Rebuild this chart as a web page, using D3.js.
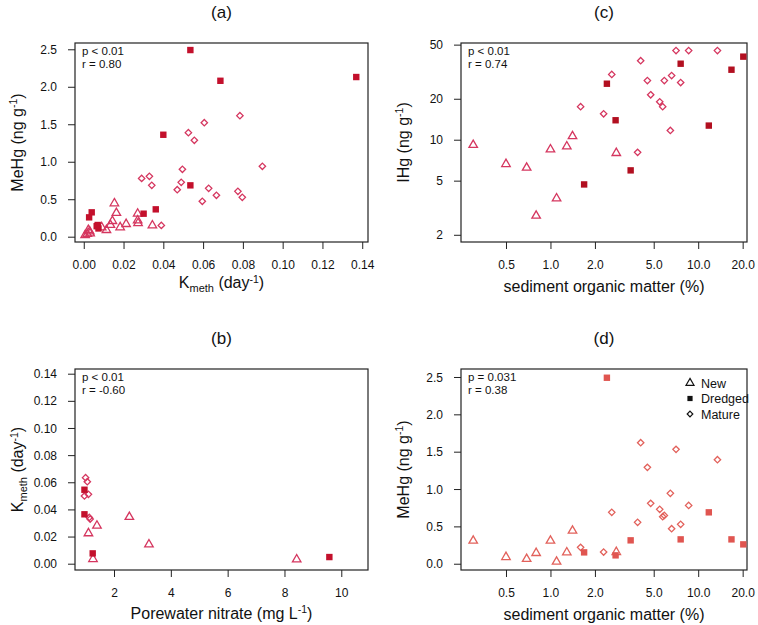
<!DOCTYPE html>
<html><head><meta charset="utf-8">
<script src="https://cdn.jsdelivr.net/npm/d3@7"></script>
<style>body{margin:0;background:#fff} text{font-family:"Liberation Sans",Arial,sans-serif;fill:#111}</style>
</head><body><svg id="c" width="758" height="625" xmlns="http://www.w3.org/2000/svg"></svg>
<script>
// ---------- DATA ----------
// Panel (a): Kmeth vs MeHg
const aNewK    = [0.0154,0.0164,0.0144,0.0134,0.0213,0.0183,0.0271,0.0271,0.0273,0.0345,0.0114,0.0090,0.0023,0.0018,0.0032,0.0007,0.0030];
const aNewMe   = [0.445,0.316,0.209,0.156,0.169,0.125,0.307,0.218,0.180,0.151,0.089,0.125,0.089,0.036,0.045,0.020,0.070];
const aDredK   = [0.0536,0.0687,0.1370,0.0400,0.0536,0.0362,0.0301,0.0040,0.0027,0.0070,0.0074,0.0065];
const aDredMe  = [2.49,2.08,2.13,1.36,0.685,0.365,0.307,0.325,0.258,0.156,0.110,0.140];
const aMatK    = [0.0291,0.0330,0.0342,0.0390,0.0470,0.0490,0.0496,0.0526,0.0556,0.0606,0.0596,0.0628,0.0667,0.0785,0.0775,0.0797,0.0898];
const aMatMe   = [0.778,0.805,0.685,0.151,0.627,0.725,0.899,1.388,1.286,1.521,0.472,0.645,0.552,1.615,0.605,0.525,0.939];

// Panel (b): porewater nitrate vs Kmeth
const bNewN    = [2.54,1.40,1.10,3.23,1.26,8.43];
const bNewK    = [0.0344,0.0280,0.0224,0.0142,0.0034,0.0032];
const bDredN   = [0.96,0.96,1.25,9.58];
const bDredK   = [0.0545,0.0364,0.0076,0.0049];
const bMatN    = [1.00,1.06,0.96,1.10,1.13,1.16];
const bMatK    = [0.0634,0.0604,0.0499,0.0511,0.0341,0.0329];

// Panels (c),(d): sediment organic matter vs IHg and MeHg
const omNew    = [0.30,0.50,0.69,0.80,1.00,1.10,1.29,1.41,2.79];
const ihgNew   = [9.14,6.62,6.22,2.76,8.49,3.70,8.93,10.6,7.98];
const mehgNew  = [0.308,0.089,0.063,0.143,0.308,0.027,0.152,0.442,0.156];
const omDred   = [2.41,1.69,2.76,3.49,7.61,11.8,16.8,20.2];
const ihgDred  = [25.8,4.69,13.9,5.95,36.2,12.7,32.7,40.8];
const mehgDred = [2.49,0.152,0.112,0.313,0.326,0.688,0.326,0.259];
const omMat    = [1.60,2.29,2.60,3.89,4.08,4.53,4.77,5.49,5.75,5.90,6.48,6.61,7.08,7.61,8.62,13.5];
const ihgMat   = [17.5,15.5,30.2,8.07,38.1,27.2,21.4,19.0,17.5,27.2,11.7,29.6,45.2,26.3,45.2,45.2];
const mehgMat  = [0.219,0.156,0.688,0.554,1.62,1.29,0.808,0.728,0.630,0.647,0.942,0.469,1.531,0.527,0.781,1.393];

// Tick labels
const aXTicks = [0,0.02,0.04,0.06,0.08,0.10,0.12,0.14];
const aYTicks = [0,0.5,1.0,1.5,2.0,2.5];
const bXTicks = [2,4,6,8,10];
const bYTicks = [0,0.02,0.04,0.06,0.08,0.10,0.12,0.14];
const omTicks = [0.5,1,2,5,10,20];
const omTickLabels = ["0.5","1.0","2.0","5.0","10.0","20.0"];
const ihgTicks = [2,5,10,20,50];
const dYTicks = [0,0.5,1.0,1.5,2.0,2.5];
const legendLabels = ["New","Dredged","Mature"];
const statsA = ["p < 0.01","r = 0.80"];
const statsB = ["p < 0.01","r = -0.60"];
const statsC = ["p < 0.01","r = 0.74"];
const statsD = ["p = 0.031","r = 0.38"];

// ---------- DRAWING ----------
const svg = d3.select("#c");
const FONT = '"Liberation Sans",Arial,sans-serif';

function triPath(s){const h=s*Math.sqrt(3)/2;return `M0,${-2*h/3}L${s/2},${h/3}L${-s/2},${h/3}Z`;}
function diaPath(r){return `M0,${-r}L${r},0L0,${r}L${-r},0Z`;}

function panel(cfg){
  const [x0,y0,x1,y1]=cfg.box;
  const g=svg.append("g");
  const x=cfg.xs.range([x0,x1]);
  const y=cfg.ys.range([y1,y0]);
  const ax=d3.axisBottom(x).tickValues(cfg.xt).tickFormat(cfg.xf).tickSize(7).tickPadding(11);
  const ay=d3.axisLeft(y).tickValues(cfg.yt).tickFormat(cfg.yf).tickSize(7).tickPadding(11);
  const gx=g.append("g").attr("transform",`translate(0,${y1})`).call(ax);
  const gy=g.append("g").attr("transform",`translate(${x0},0)`).call(ay);
  [gx,gy].forEach(a=>{
    a.select(".domain").remove();
    a.selectAll("line").attr("stroke","#222").attr("stroke-width",1);
    a.selectAll("text").attr("font-size",12).attr("font-family",FONT).attr("fill","#111");
  });
  gy.selectAll("text").attr("dy","0.34em");
  g.append("rect").attr("x",x0).attr("y",y0).attr("width",x1-x0).attr("height",y1-y0)
    .attr("fill","none").attr("stroke","#222").attr("stroke-width",1.2);
  g.append("text").attr("x",(x0+x1)/2).attr("y",y0-25).attr("text-anchor","middle")
    .attr("font-size",17).text(cfg.title);
  cfg.stats.forEach((s,i)=>g.append("text").attr("x",x0+7).attr("y",y0+12+i*13)
    .attr("font-size",11.5).text(s));
  const xt=g.append("text").attr("x",(x0+x1)/2).attr("y",y1+cfg.xlOff).attr("text-anchor","middle").attr("font-size",16);
  cfg.xl(xt);
  const yt=g.append("text").attr("transform",`translate(${x0-52},${(y0+y1)/2}) rotate(-90)`)
    .attr("text-anchor","middle").attr("font-size",16);
  cfg.yl(yt);
  const pg=g.append("g");
  cfg.series.forEach(s=>{
    d3.zip(s.xv,s.yv).forEach(([a,b])=>{
      const px=x(a),py=y(b);
      if(s.shape==="tri"){
        pg.append("path").attr("d",triPath(8.5)).attr("transform",`translate(${px},${py})`)
          .attr("fill","none").attr("stroke",s.color).attr("stroke-width",1.3);
      } else if(s.shape==="dia"){
        pg.append("path").attr("d",diaPath(3.2)).attr("transform",`translate(${px},${py})`)
          .attr("fill","none").attr("stroke",s.color).attr("stroke-width",1.3);
      } else {
        pg.append("rect").attr("x",px-3.2).attr("y",py-3.2).attr("width",6.4).attr("height",6.4)
          .attr("fill",s.color);
      }
    });
  });
  return {g,x,y};
}

function sup(t,base,supTxt,tail){
  t.append("tspan").text(base);
  t.append("tspan").attr("font-size",10.5).attr("dy",-6).text(supTxt);
  t.append("tspan").attr("dy",6).text(tail);
}
function kmeth(t){
  t.append("tspan").text("K");
  t.append("tspan").attr("font-size",11).attr("dy",4).text("meth");
  t.append("tspan").attr("dy",-4).text(" (day");
  t.append("tspan").attr("font-size",10.5).attr("dy",-5.5).text("-1");
  t.append("tspan").attr("dy",5.5).text(")");
}

const cPink="#d5365f", cRed="#c3102c", cRedC="#b20f20", cSal="#e2615b", cSalSq="#e05550";
const fmt1=d3.format(".1f"), fmt2=d3.format(".2f");

panel({box:[75,43,368,242],
  xs:d3.scaleLinear().domain([-0.0044,0.1429]), ys:d3.scaleLinear().domain([-0.0707,2.584]),
  xt:aXTicks,xf:fmt2,yt:aYTicks,yf:fmt1,title:"(a)",stats:statsA,xlOff:46,
  xl:kmeth, yl:t=>sup(t,"MeHg (ng g","-1",")"),
  series:[{xv:aNewK,yv:aNewMe,shape:"tri",color:cPink},{xv:aMatK,yv:aMatMe,shape:"dia",color:cPink},{xv:aDredK,yv:aDredMe,shape:"sq",color:cRed}]});

panel({box:[75,369,368,570],
  xs:d3.scaleLinear().domain([0.627,10.94]), ys:d3.scaleLinear().domain([-0.00464,0.14346]),
  xt:bXTicks,xf:d3.format("d"),yt:bYTicks,yf:fmt2,title:"(b)",stats:statsB,xlOff:49,
  xl:t=>sup(t,"Porewater nitrate (mg L","-1",")"), yl:kmeth,
  series:[{xv:bNewN,yv:bNewK,shape:"tri",color:cPink},{xv:bMatN,yv:bMatK,shape:"dia",color:cPink},{xv:bDredN,yv:bDredK,shape:"sq",color:cRed}]});

panel({box:[461,43,747,242],
  xs:d3.scaleLog().domain([0.248,21.4]), ys:d3.scaleLog().domain([1.77,51.4]),
  xt:omTicks,xf:(d,i)=>omTickLabels[i],yt:ihgTicks,yf:d3.format("d"),title:"(c)",stats:statsC,xlOff:50,
  xl:t=>t.text("sediment organic matter (%)"), yl:t=>sup(t,"IHg (ng g","-1",")"),
  series:[{xv:omNew,yv:ihgNew,shape:"tri",color:cPink},{xv:omMat,yv:ihgMat,shape:"dia",color:cPink},{xv:omDred,yv:ihgDred,shape:"sq",color:cRedC}]});

const pd=panel({box:[461,369,747,570],
  xs:d3.scaleLog().domain([0.248,21.4]), ys:d3.scaleLinear().domain([-0.084,2.607]),
  xt:omTicks,xf:(d,i)=>omTickLabels[i],yt:dYTicks,yf:fmt1,title:"(d)",stats:statsD,xlOff:50,
  xl:t=>t.text("sediment organic matter (%)"), yl:t=>sup(t,"MeHg (ng g","-1",")"),
  series:[{xv:omNew,yv:mehgNew,shape:"tri",color:cSal},{xv:omMat,yv:mehgMat,shape:"dia",color:cSal},{xv:omDred,yv:mehgDred,shape:"sq",color:cSalSq}]});

// legend in (d)
const lg=pd.g.append("g").attr("transform","translate(690,383)");
legendLabels.forEach((l,i)=>{
  const yy=i*15.5;
  if(i===0) lg.append("path").attr("d",triPath(8)).attr("transform",`translate(0,${yy})`).attr("fill","none").attr("stroke","#111").attr("stroke-width",1.2);
  else if(i===1) lg.append("rect").attr("x",-2.6).attr("y",yy-2.6).attr("width",5.2).attr("height",5.2).attr("fill","#111");
  else lg.append("path").attr("d",diaPath(2.8)).attr("transform",`translate(0,${yy})`).attr("fill","none").attr("stroke","#111").attr("stroke-width",1.2);
  lg.append("text").attr("x",11).attr("y",yy+4.5).attr("font-size",12.5).text(l);
});
</script></body></html>
